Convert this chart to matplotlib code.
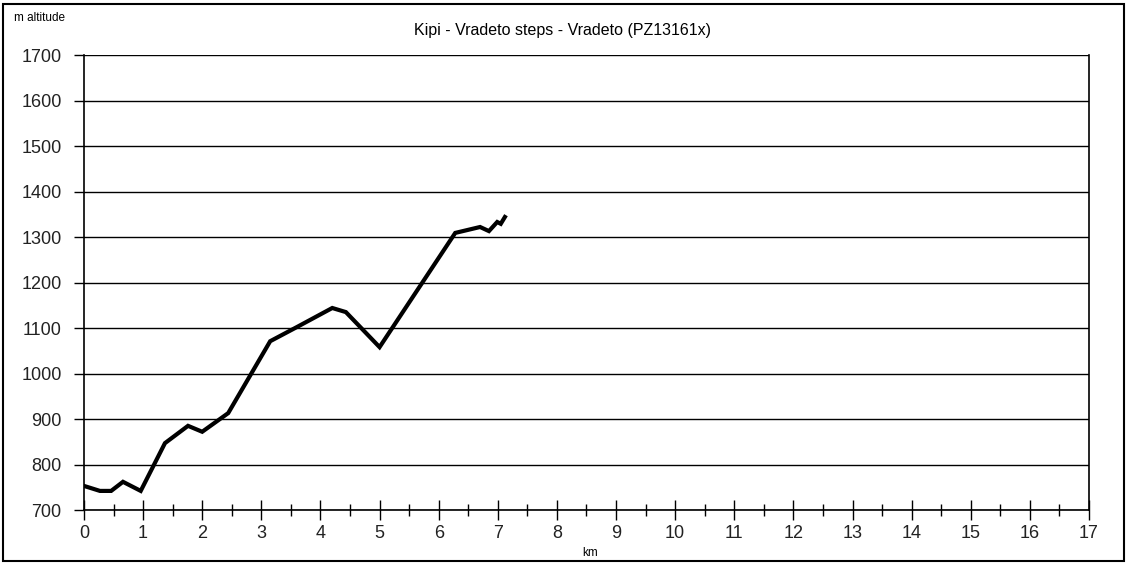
import matplotlib.pyplot as plt
from matplotlib.patches import Rectangle
from matplotlib.ticker import MultipleLocator

plt.rcParams['font.family'] = ['Liberation Sans', 'DejaVu Sans']

# route profile: distance in km, altitude in m
km = [0, 0.27, 0.46, 0.66, 0.96, 1.37, 1.76, 2.0, 2.44, 3.15, 3.6, 4.2,
      4.43, 5.0, 6.28, 6.7, 6.85, 6.99, 7.05, 7.12]
alt = [753, 742, 742, 762, 742, 847, 885, 872, 913, 1071, 1102, 1144,
       1135, 1058, 1309, 1322, 1313, 1333, 1329, 1344]

title = 'Kipi - Vradeto steps - Vradeto (PZ13161x)'

fig = plt.figure(figsize=(11.27, 5.63), dpi=100)
ax = fig.add_axes([0.0745, 0.0941, 0.9663 - 0.0745, 0.9023 - 0.0941])

ax.plot(km, alt, color='black', lw=3, solid_joinstyle='miter', zorder=3)

ax.set_xlim(0, 17)
ax.set_ylim(700, 1700)
ax.xaxis.set_major_locator(MultipleLocator(1))
ax.xaxis.set_minor_locator(MultipleLocator(0.5))
ax.yaxis.set_major_locator(MultipleLocator(100))
ax.grid(axis='y', color='black', lw=1)
ax.set_axisbelow(True)

ax.tick_params(axis='x', which='major', direction='inout', length=14, width=1,
               labelsize=13, pad=4, labelcolor='#222222')
ax.tick_params(axis='x', which='minor', direction='inout', length=9, width=1)
ax.tick_params(axis='y', direction='out', length=7, width=1, labelsize=13,
               pad=9, labelcolor='#222222')
for side in ['left', 'right', 'bottom']:
    ax.spines[side].set_color('black')
    ax.spines[side].set_linewidth(1.2)
ax.spines['top'].set_visible(False)

fig.text(0.499, 0.945, title, ha='center', va='center', fontsize=11.5)
fig.text(0.012, 0.968, 'm altitude', ha='left', va='center', fontsize=8.5)
fig.text(0.524, 0.018, 'km', ha='center', va='center', fontsize=8.5)

fig.patches.append(Rectangle((0.003, 0.003), 0.994, 0.99, transform=fig.transFigure,
                             fill=False, edgecolor='black', lw=1.5))

fig.savefig('out.png', dpi=100)
